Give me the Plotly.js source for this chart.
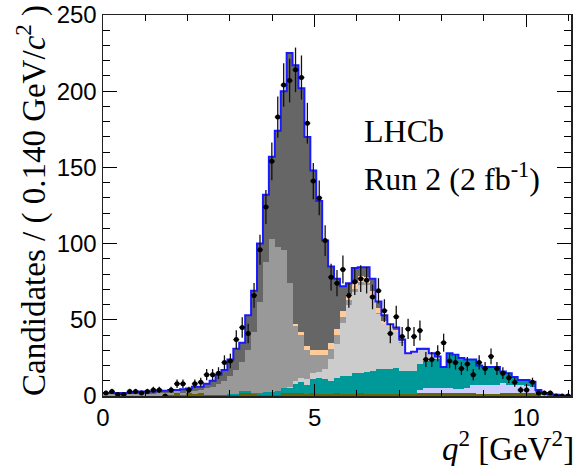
<!DOCTYPE html>
<html>
<head>
<meta charset="utf-8">
<script src="https://cdn.plot.ly/plotly-3.0.1.min.js"></script>
<style>html,body{margin:0;padding:0;background:#fff;}#chart{width:577px;height:466px;}</style>
</head>
<body>
<div id="chart"></div>
<script>
// Bin width (GeV^2) and q^2 bins starting at 0
const binWidth = 0.14;

// Stacked fit components (candidates per bin), bottom to top
const olive = [0.3,0.3,0.3,0.3,0.3,0.3,0.3,0.3,0.3,0.3,0.3,
  0.5,2,0.5,2,1,2,0.5,0.5,0.5,0.5,
  0.5,0.5,2,2,1,0.5,0.5,
  0.5,0.5,2,2,2,2,1,2,
  1,1,1,2,1,1,1,2,1,1,1,1,1,1,1,1,1,
  2,2,2,2,2,2,2,2,2,2,1,1,1,1,2,2,2,2,2,2,1,0,0,0,0,0];
const lavender = [0,0,0,0,0,0,0,0,0,0,0,0,0,0,0,0,0,0,0,0,0,0,0,0,0,0,0,0,0,0,0,0,0,0,0,0,0,0,0,0,0,0,0,0,0,
  0.5,0.5,0.5,0.5,0.5,0.5,0.5,0.5,
  2,3,3,3,3,3,2.5,2.5,3,5,6,6,6,6,6.5,5,5,5,4.5,4,1.5,0.5,0,0,0,0];
const teal = [0,0,0,0,0,0,0,0,0,0,0,0,0,0,0,0,0,0,0,0,0,
  0.5,0.5,1,1,1,1.5,2,2,3,3,3,6,7,6,9,
  11,10,9,10,12,12,14,13,15,15,16,16,16,17,15,15,15,
  17,18,19,19.5,13.5,22.5,22,20,18.5,16.5,12.5,11.5,11.5,11.5,7.2,7.7,5.2,3.5,4,3.4,1.5,1.5,1.2,0.8,0.4,0.2];
const lightGrey = [0,0,0,0,0,0,0,0,0,0,0,0,0,0,0,0,0,0,0,0,0,0,0,0,0,0,0,0,0,0,
  0.5,1,2,3,4,4,
  4,7,14,22,35,47,53,58,57,48.5,36.5,29.5,27.5,23.5,18.5,10.5,11.5,
  9,7,3.5,1,0.5,0.5,0.5,0.5,0.5,0.5,0.5,0.5,0.5,0.5,0.3,0.3,0.3,0,0,0,0,0,0,0,0,0];
const midGrey = [0.7,0.7,0.7,0.7,0.7,0.9,1.2,1.2,1.2,1.4,1.4,
  1.5,1,1.7,1.2,2,2,4.5,5.5,7.5,9.5,
  12,16,19,27,40,60,85.5,
  100.5,94.5,90.5,68,36,28,19,12,
  11,9,7,6,4,3,2,1.5,1,1,0.5,0.5,0.3,0.3,0.2,0.2,0.2,
  0,0,0,0,0,0,0,0,0,0,0,0,0,0,0,0,0,0,0,0,0,0,0,0,0,0];
const peach = [0,0,0,0,0,0,0,0,0,0,0,0,0,0,0,0,0,0,0,0,0,0,0,0,0,0,0,0,0,0,0,0,
  1,2,2.5,3,3,3,3.5,4,4,4,4,4,4,3,3,2,1.5,1,1,0.5,0.5,
  0,0,0,0,0,0,0,0,0,0,0,0,0,0,0,0,0,0,0,0,0,0,0,0,0,0];
const darkGrey = [1,1,1,1,1,1.3,1.5,1.5,1.5,1.8,1.8,
  2,1,2.3,1.8,3,2,3,4,6,7,
  11,14,13,23,27,38,44,
  54,76,104,151,170,160,137.5,118,
  98,72,50.5,33,16,7,10,6,6.5,8,4.5,3.5,0.2,1.7,0.8,0.3,0.3,
  1,1,0.5,0.5,0,0,0,0,0,0,0,0,0,0,0,0,0,0,0,0,0,0,0,0,0,0];

// Total fit (blue line)
const totalFit = [2,2,2,2,2,2.5,3,3,3,3.5,3.5,
  4,4,4.5,5,6,6,8,10,14,17,
  24,31,35,53,69,100,132,
  157,174,200,225,217,202,170,148,
  128,102,85,77,72,74,84,84.5,84.5,77,62,53,47,45,37,28,29,
  31,31,28,26,19,28,27,25,24,24,20,19,19,19,16,15,12.5,10.5,10.5,9.4,4,2,1.2,0.8,0.4,0.2];

// Data (candidates per bin)
const dataCounts = [2,3,1,1,3,3,2,3,4,4,
  0,4,8,8,4,8,9,14,14,15,
  22,23,37,45,41,66,96,124,154,183,
  204,207,214,209,179,141,130,102,78,74,
  83,66,75,77,76,65,69,56,41,52,
  39,44,39,43,24,24,28,35,23,22,
  18,21,14,22,18,26,18,15,12,9,
  4,4,9,2,2,2,0,0,0];

const nBins = totalFit.length;
const centers = totalFit.map((_, i) => (i + 0.5) * binWidth);
const edges = [];
for (let i = 0; i <= nBins; i++) edges.push(i * binWidth);
const stepY = totalFit.concat([totalFit[nBins - 1]]);

const comps = [
  {y: olive, c: '#666600'},
  {y: lavender, c: '#ccccff'},
  {y: teal, c: '#009999'},
  {y: lightGrey, c: '#cccccc'},
  {y: midGrey, c: '#999999'},
  {y: peach, c: '#ffcc99'},
  {y: darkGrey, c: '#666666'}
];

const traces = comps.map(o => ({
  type: 'bar', x: centers, y: o.y, width: binWidth,
  marker: {color: o.c, line: {width: 0}}, hoverinfo: 'skip'
}));

traces.push({
  type: 'scatter', mode: 'lines', x: edges, y: stepY,
  line: {shape: 'hv', color: '#1a1aff', width: 2}, hoverinfo: 'skip'
});

traces.push({
  type: 'scatter', mode: 'markers', x: centers, y: dataCounts,
  marker: {color: 'black', size: 5},
  error_y: {type: 'sqrt', color: '#111', thickness: 1.3, width: 0},
  error_x: {type: 'constant', value: binWidth / 2, color: '#111', thickness: 1.3, width: 0},
  hoverinfo: 'skip'
});

const serif = 'Liberation Serif, Times New Roman, serif';
const sans = 'Liberation Sans, Arial, Helvetica, sans-serif';

const layout = {
  width: 577, height: 466,
  margin: {l: 103, r: 6, t: 15, b: 70},
  paper_bgcolor: 'white', plot_bgcolor: 'white',
  showlegend: false, barmode: 'stack', bargap: 0,
  xaxis: {
    range: [0, nBins * binWidth], tick0: 0, dtick: 5,
    ticks: 'inside', ticklen: 12, tickwidth: 1, tickcolor: 'black',
    showline: true, linecolor: '#222', linewidth: 1.5, mirror: 'ticks',
    showgrid: false, zeroline: false,
    tickfont: {family: sans, size: 24, color: 'black'},
    minor: {dtick: 1, ticks: 'inside', ticklen: 6, tickcolor: 'black', tickwidth: 1, showgrid: false}
  },
  yaxis: {
    range: [0, 250], tick0: 0, dtick: 50,
    ticks: 'inside', ticklen: 14, tickwidth: 1, tickcolor: 'black',
    showline: true, linecolor: '#222', linewidth: 1.5, mirror: 'ticks',
    showgrid: false, zeroline: false,
    tickfont: {family: sans, size: 24, color: 'black'},
    minor: {dtick: 10, ticks: 'inside', ticklen: 7, tickcolor: 'black', tickwidth: 1, showgrid: false}
  },
  annotations: [
    {text: 'Candidates / ( 0.140 GeV/<i>c</i><sup>2</sup> )', textangle: -90,
     xref: 'paper', yref: 'paper', x: -0.153, y: 1.0315, xanchor: 'center', yanchor: 'top',
     showarrow: false, font: {family: serif, size: 33, color: 'black'}},
    {text: '<i>q</i><sup>2</sup> [GeV<sup>2</sup>]',
     xref: 'paper', yref: 'paper', x: 1.0107, y: -0.192, xanchor: 'right', yanchor: 'bottom',
     showarrow: false, font: {family: serif, size: 33, color: 'black'}},
    {text: 'LHCb', xref: 'paper', yref: 'paper', x: 0.553, y: 0.695, xanchor: 'left', yanchor: 'middle',
     showarrow: false, font: {family: serif, size: 32, color: 'black'}},
    {text: 'Run 2 (2 fb<sup>-1</sup>)', xref: 'paper', yref: 'paper', x: 0.553, y: 0.575, xanchor: 'left', yanchor: 'middle',
     showarrow: false, font: {family: serif, size: 32, color: 'black'}}
  ]
};

Plotly.newPlot('chart', traces, layout, {displayModeBar: false, staticPlot: true});
</script>
</body>
</html>
